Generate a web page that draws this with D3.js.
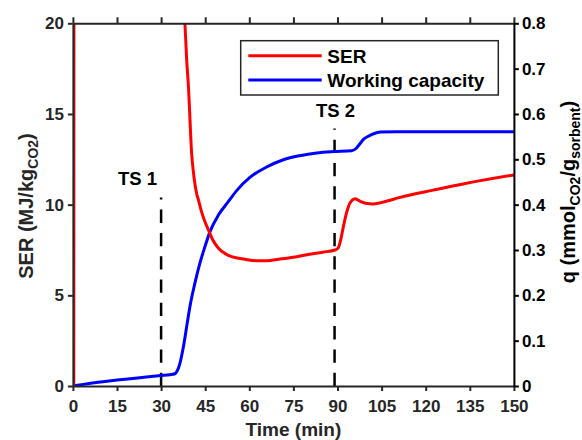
<!DOCTYPE html>
<html>
<head>
<meta charset="utf-8">
<script src="https://cdn.jsdelivr.net/npm/d3@7"></script>
<style>
  body { margin: 0; background: #fff; }
  text { font-family: "Liberation Sans", Arial, sans-serif; font-weight: bold; }
</style>
</head>
<body>
<div id="chart"></div>
<script>
// time axis
var timeTicks = [0, 15, 30, 45, 60, 75, 90, 105, 120, 135, 150];
var serTicks = [0, 5, 10, 15, 20];
var qTicks = [0, 0.1, 0.2, 0.3, 0.4, 0.5, 0.6, 0.7, 0.8];
var qTickLabels = ['0', '0.1', '0.2', '0.3', '0.4', '0.5', '0.6', '0.7', '0.8'];

// SER (MJ/kg CO2), null = gap
var serTime = [0.3, 0.4, null, 37.6, 38.1, 38.7, 39.3, 40.4, 41.2, 42.1, 42.7, 43.6, 44.6, 46.1, 47.6, 49.5, 52, 54, 58.5, 63, 66, 70, 75, 80, 85, 89.2, 90.2, 91, 92, 93, 93.7, 95, 96, 97, 98.2, 100, 102, 105, 111.3, 122.6, 133.9, 150];
var serValue = [0, 40, null, 22, 20, 18, 16.5, 12.8, 11.5, 10.6, 10.26, 9.7, 9.2, 8.6, 8.05, 7.6, 7.28, 7.13, 6.99, 6.9, 6.91, 6.99, 7.1, 7.25, 7.38, 7.5, 7.6, 8.0, 8.79, 9.5, 9.89, 10.25, 10.32, 10.25, 10.15, 10.06, 10.04, 10.12, 10.4, 10.8, 11.18, 11.64];

// working capacity q (mmol CO2 / g sorbent)
var qTime = [0, 5, 15, 25, 30, 33, 34.7, 35.6, 36.4, 37.6, 38.7, 39.8, 41.5, 43.2, 44.9, 46.6, 49.5, 52.9, 55.7, 60.2, 65.9, 71.6, 77.2, 82.9, 88.6, 94.8, 96.5, 97.7, 99, 100.5, 102.5, 104.5, 110, 150];
var qValue = [0, 0.005, 0.013, 0.02, 0.023, 0.025, 0.027, 0.035, 0.05, 0.087, 0.131, 0.175, 0.227, 0.271, 0.307, 0.34, 0.377, 0.407, 0.431, 0.46, 0.483, 0.499, 0.508, 0.514, 0.517, 0.519, 0.525, 0.535, 0.545, 0.551, 0.557, 0.56, 0.561, 0.561];

// time steps
var tsTime = [30, 89];
var tsTop = [10.4, 14.2];
var tsLabels = ['TS 1', 'TS 2'];

var seriesNames = ['SER', 'Working capacity'];
var seriesColors = ['#ff0000', '#0000ff'];

var width = 582;
var height = 440;
var margin = {top: 23.3, right: 68.1, bottom: 54, left: 72.9};
var innerW = width - margin.left - margin.right;
var innerH = height - margin.top - margin.bottom;

var svg = d3.select('#chart')
            .append('svg')
            .attr('width', width)
            .attr('height', height);

var g = svg.append('g')
           .attr('transform', 'translate(' + margin.left + ',' + margin.top + ')');

var x = d3.scaleLinear().domain([0, 150]).range([0, innerW]);
var yL = d3.scaleLinear().domain([0, 20]).range([innerH, 0]);
var yR = d3.scaleLinear().domain([0, 0.8]).range([innerH, 0]);

g.append('clipPath')
 .attr('id', 'plot-clip')
 .append('rect')
 .attr('width', innerW)
 .attr('height', innerH);

// dashed time step markers (drawn from the bottom up)
tsTime.forEach(function(t, i) {
  g.append('line')
   .attr('x1', x(t)).attr('x2', x(t))
   .attr('y1', yL(0)).attr('y2', yL(tsTop[i]))
   .attr('stroke', '#000')
   .attr('stroke-width', 2.5)
   .attr('stroke-dasharray', '13.3,10');
});

g.append('text')
 .attr('x', x(tsTime[0]) - 23.5)
 .attr('y', yL(tsTop[0]) - 12)
 .attr('text-anchor', 'middle')
 .attr('font-size', 18.5)
 .attr('fill', '#000')
 .text(tsLabels[0]);

g.append('text')
 .attr('x', x(tsTime[1]) + 1)
 .attr('y', yL(tsTop[1]) - 11.6)
 .attr('text-anchor', 'middle')
 .attr('font-size', 18.5)
 .attr('fill', '#000')
 .text(tsLabels[1]);

// curves
var serData = serTime.map(function(t, i) { return {t: t, v: serValue[i]}; });
var qData = qTime.map(function(t, i) { return {t: t, v: qValue[i]}; });

var serLine = d3.line()
                .defined(function(d) { return d.t !== null; })
                .x(function(d) { return x(d.t); })
                .y(function(d) { return yL(d.v); })
                .curve(d3.curveMonotoneX);

var qLine = d3.line()
              .x(function(d) { return x(d.t); })
              .y(function(d) { return yR(d.v); })
              .curve(d3.curveMonotoneX);

var curves = g.append('g').attr('clip-path', 'url(#plot-clip)');

curves.append('path')
      .datum(qData)
      .attr('d', qLine)
      .attr('fill', 'none')
      .attr('stroke', seriesColors[1])
      .attr('stroke-width', 3);

curves.append('path')
      .datum(serData)
      .attr('d', serLine)
      .attr('fill', 'none')
      .attr('stroke', seriesColors[0])
      .attr('stroke-width', 3);

// axes
function styleAxis(sel, color) {
  sel.select('.domain').attr('stroke', color).attr('stroke-width', 2);
  sel.selectAll('.tick line').attr('stroke', color).attr('stroke-width', 2);
  sel.selectAll('.tick text')
     .attr('fill', color)
     .style('font-family', '"Liberation Sans", Arial, sans-serif')
     .style('font-weight', 'bold')
     .style('font-size', '17px');
}

var bottomAxis = g.append('g')
                  .attr('transform', 'translate(0,' + innerH + ')')
                  .call(d3.axisBottom(x).tickValues(timeTicks).tickSize(5).tickSizeOuter(0).tickPadding(9));
styleAxis(bottomAxis, '#262626');

var topAxis = g.append('g')
               .call(d3.axisTop(x).tickValues(timeTicks).tickSize(6).tickSizeOuter(0).tickFormat(''));
styleAxis(topAxis, '#262626');

var leftAxis = g.append('g')
                .call(d3.axisLeft(yL).tickValues(serTicks).tickSize(5).tickSizeOuter(0).tickPadding(4));
styleAxis(leftAxis, '#262626');

var rightAxis = g.append('g')
                 .attr('transform', 'translate(' + innerW + ',0)')
                 .call(d3.axisRight(yR).tickValues(qTicks).tickSize(5).tickSizeOuter(0).tickPadding(3)
                         .tickFormat(function(d, i) { return qTickLabels[i]; }));
styleAxis(rightAxis, '#000');

// axis titles
svg.append('text')
   .attr('x', margin.left + innerW / 2)
   .attr('y', 436)
   .attr('text-anchor', 'middle')
   .attr('font-size', 19)
   .attr('fill', '#262626')
   .text('Time (min)');

var leftTitle = svg.append('text')
                   .attr('transform', 'translate(33,206) rotate(-90)')
                   .attr('text-anchor', 'middle')
                   .attr('font-size', 20)
                   .attr('fill', '#262626');
leftTitle.append('tspan').text('SER (MJ/kg');
leftTitle.append('tspan').attr('dy', 5).attr('font-size', 14).text('CO2');
leftTitle.append('tspan').attr('dy', -5).text(')');

var rightTitle = svg.append('text')
                    .attr('transform', 'translate(575,192) rotate(-90)')
                    .attr('text-anchor', 'middle')
                    .attr('font-size', 20)
                    .attr('fill', '#000');
rightTitle.append('tspan').text('q (mmol');
rightTitle.append('tspan').attr('dy', 5).attr('font-size', 14).text('CO2');
rightTitle.append('tspan').attr('dy', -5).text('/g');
rightTitle.append('tspan').attr('dy', 5).attr('font-size', 14).text('sorbent');
rightTitle.append('tspan').attr('dy', -5).text(')');

// legend
var legend = svg.append('g');
legend.append('rect')
      .attr('x', 240.7).attr('y', 40.7)
      .attr('width', 257.6).attr('height', 54.3)
      .attr('fill', '#fff')
      .attr('stroke', '#262626')
      .attr('stroke-width', 1.5);

seriesNames.forEach(function(name, i) {
  var ly = 55.7 + i * 24.3;
  legend.append('line')
        .attr('x1', 248.3).attr('x2', 321.7)
        .attr('y1', ly).attr('y2', ly)
        .attr('stroke', seriesColors[i])
        .attr('stroke-width', 3);
  legend.append('text')
        .attr('x', 327.3)
        .attr('y', ly + 7)
        .attr('font-size', 19)
        .attr('fill', '#000')
        .text(name);
});
</script>
</body>
</html>
